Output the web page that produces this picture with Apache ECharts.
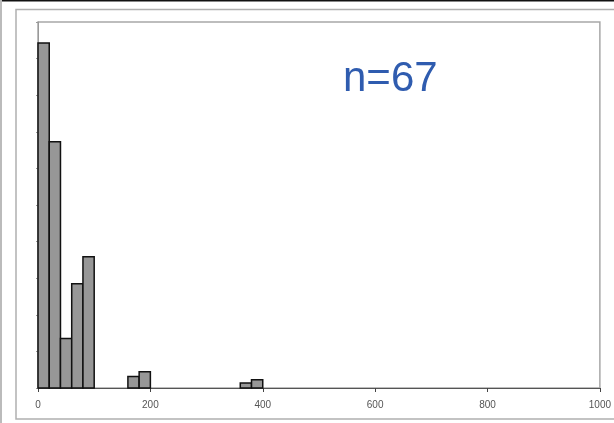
<!DOCTYPE html>
<html>
<head>
<meta charset="utf-8">
<script src="https://cdn.jsdelivr.net/npm/echarts@6/dist/echarts.min.js"></script>
<style>
html,body{margin:0;padding:0;background:#fff;}
#main{width:614px;height:423px;}
</style>
</head>
<body>
<div id="main"></div>
<script>
// bin edges (lower bound of each 20-wide bin) and bar heights (percent)
var binStart = [0, 20, 40, 60, 80, 160, 180, 360, 380];
var binWidth = 20;
var percent = [37.7, 26.9, 5.4, 11.4, 14.35, 1.27, 1.78, 0.55, 0.9];
var xTicks = [0, 200, 400, 600, 800, 1000];

var myChart = echarts.init(document.getElementById('main'));

var barData = [];
for (var i = 0; i < binStart.length; i++) {
    barData.push([binStart[i], binStart[i] + binWidth, percent[i]]);
}

var opt = {
    backgroundColor: '#fff',
    animation: false,
    grid: {
        left: 38, right: 9, top: 22, bottom: 35,
        show: true,
        borderColor: '#a8a8a8',
        borderWidth: 1.5
    },
    xAxis: {
        type: 'value',
        min: 0, max: 1000, interval: 200,
        splitLine: {show: false},
        axisLine: {lineStyle: {color: '#555', width: 1.2}},
        axisTick: {show: true, length: 4, inside: false, lineStyle: {color: '#444'}},
        axisLabel: {
            color: '#555', fontSize: 10, fontFamily: 'Arial', margin: 12,
            formatter: function (v) { return xTicks.indexOf(v) >= 0 ? String(v) : ''; }
        }
    },
    yAxis: {
        type: 'value',
        min: 0, max: 40, interval: 4,
        splitLine: {show: false},
        axisLine: {show: true, lineStyle: {color: '#999', width: 1}},
        axisTick: {show: true, length: 2, lineStyle: {color: '#999'}},
        axisLabel: {show: false}
    },
    series: [{
        type: 'custom',
        renderItem: function (params, api) {
            var p0 = api.coord([api.value(0), api.value(2)]);
            var p1 = api.coord([api.value(1), 0]);
            return {
                type: 'rect',
                shape: {x: p0[0], y: p0[1], width: p1[0] - p0[0], height: p1[1] - p0[1]},
                style: {fill: '#979797', stroke: '#111', lineWidth: 1.5}
            };
        },
        encode: {x: [0, 1], y: 2},
        data: barData
    }],
    graphic: [
        {type: 'rect', shape: {x: 0, y: 0, width: 614, height: 1.5}, style: {fill: '#111'}},
        {type: 'rect', shape: {x: 0, y: 0, width: 2, height: 423}, style: {fill: '#bbb'}},
        {type: 'polyline', shape: {points: [[614, 9.5], [16, 9.5], [16, 419], [614, 419]]},
            style: {stroke: '#b0b0b0', lineWidth: 1.5, fill: null}},
        {type: 'text', left: 343, top: 58,
            style: {text: 'n=67', fill: '#2f5caf', font: '42px "Liberation Sans", Arial, sans-serif'}}
    ]
};
myChart.setOption(opt);
</script>
</body>
</html>
